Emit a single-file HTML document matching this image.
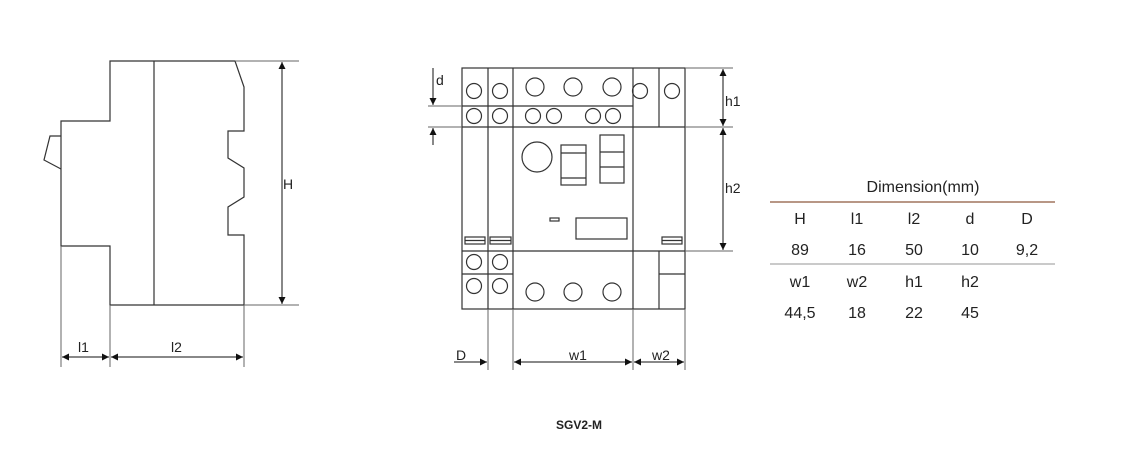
<!DOCTYPE html>
<html><head><meta charset="utf-8"><style>
html,body{margin:0;padding:0;background:#fff;width:1135px;height:460px;overflow:hidden}
svg{display:block}
text{font-family:"Liberation Sans",Arial,sans-serif;fill:#222}
</style></head><body>
<svg width="1135" height="460" viewBox="0 0 1135 460" xmlns="http://www.w3.org/2000/svg">
<defs>
<marker id="a" viewBox="0 0 10 10" refX="10" refY="5" markerWidth="9" markerHeight="7" orient="auto-start-reverse" markerUnits="userSpaceOnUse"><path d="M0,0 L10,5 L0,10 z" fill="#111"/></marker>
</defs>
<g fill="none" stroke="#333" stroke-width="1.2">
<!-- left side view -->
<path d="M110,61 L235,61 L244,87 L244,131 L228,131 L228,158 L244,168 L244,197 L228,207 L228,235 L244,235 L244,305 L110,305 L110,246 L61,246 L61,121 L110,121 Z"/>
<line x1="154" y1="61" x2="154" y2="305"/>
<path d="M61,136 L50,136 L44,160 L61,169"/>
</g>
<g fill="none" stroke="#666" stroke-width="1">
<line x1="235" y1="61" x2="299" y2="61"/>
<line x1="244" y1="305" x2="299" y2="305"/>
<line x1="61" y1="246" x2="61" y2="367"/>
<line x1="110" y1="305" x2="110" y2="367"/>
<line x1="244" y1="305" x2="244" y2="367"/>
</g>
<g stroke="#111" stroke-width="1">
<line x1="282" y1="62" x2="282" y2="304" marker-start="url(#a)" marker-end="url(#a)"/>
<line x1="62" y1="357" x2="109" y2="357" marker-start="url(#a)" marker-end="url(#a)"/>
<line x1="111" y1="357" x2="243" y2="357" marker-start="url(#a)" marker-end="url(#a)"/>
</g>
<text x="283" y="189" font-size="14">H</text>
<text x="78" y="352" font-size="14">l1</text>
<text x="171" y="352" font-size="14">l2</text>

<!-- front view -->
<g fill="none" stroke="#333" stroke-width="1.2">
<rect x="462" y="68" width="223" height="241"/>
<line x1="488" y1="68" x2="488" y2="309"/>
<line x1="513" y1="68" x2="513" y2="309"/>
<line x1="633" y1="68" x2="633" y2="309"/>
<line x1="659" y1="68" x2="659" y2="127"/>
<line x1="659" y1="251" x2="659" y2="309"/>
<line x1="462" y1="106" x2="633" y2="106"/>
<line x1="462" y1="127" x2="685" y2="127"/>
<line x1="462" y1="251" x2="685" y2="251"/>
<line x1="462" y1="274" x2="513" y2="274"/>
<line x1="659" y1="274" x2="685" y2="274"/>
<g>
<circle cx="474" cy="91" r="7.5"/><circle cx="500" cy="91" r="7.5"/>
<circle cx="640" cy="91" r="7.5"/><circle cx="672" cy="91" r="7.5"/>
<circle cx="535" cy="87" r="9"/><circle cx="573" cy="87" r="9"/><circle cx="612" cy="87" r="9"/>
<circle cx="474" cy="116" r="7.5"/><circle cx="500" cy="116" r="7.5"/>
<circle cx="533" cy="116" r="7.5"/><circle cx="554" cy="116" r="7.5"/>
<circle cx="593" cy="116" r="7.5"/><circle cx="613" cy="116" r="7.5"/>
<circle cx="537" cy="157" r="15"/>
<circle cx="474" cy="262" r="7.5"/><circle cx="500" cy="262" r="7.5"/>
<circle cx="474" cy="286" r="7.5"/><circle cx="500" cy="286" r="7.5"/>
<circle cx="535" cy="292" r="9"/><circle cx="573" cy="292" r="9"/><circle cx="612" cy="292" r="9"/>
</g>
<rect x="561" y="145" width="25" height="40"/>
<line x1="561" y1="153" x2="586" y2="153"/><line x1="561" y1="178" x2="586" y2="178"/>
<rect x="600" y="135" width="24" height="48"/>
<line x1="600" y1="152" x2="624" y2="152"/><line x1="600" y1="167" x2="624" y2="167"/>
<rect x="550" y="218" width="9" height="3"/>
<rect x="576" y="218" width="51" height="21"/>
<rect x="465" y="237" width="20" height="7"/><line x1="465" y1="240.5" x2="485" y2="240.5"/>
<rect x="490" y="237" width="21" height="7"/><line x1="490" y1="240.5" x2="511" y2="240.5"/>
<rect x="662" y="237" width="20" height="7"/><line x1="662" y1="240.5" x2="682" y2="240.5"/>
</g>
<g fill="none" stroke="#666" stroke-width="1">
<line x1="428" y1="106" x2="462" y2="106"/>
<line x1="428" y1="127" x2="462" y2="127"/>
<line x1="685" y1="68" x2="733" y2="68"/>
<line x1="685" y1="127" x2="733" y2="127"/>
<line x1="685" y1="251" x2="733" y2="251"/>
<line x1="488" y1="309" x2="488" y2="370"/>
<line x1="513" y1="309" x2="513" y2="370"/>
<line x1="633" y1="309" x2="633" y2="370"/>
<line x1="685" y1="309" x2="685" y2="370"/>
</g>
<g stroke="#111" stroke-width="1">
<line x1="433" y1="68" x2="433" y2="105" marker-end="url(#a)"/>
<line x1="433" y1="145" x2="433" y2="128" marker-end="url(#a)"/>
<line x1="723" y1="69" x2="723" y2="126" marker-start="url(#a)" marker-end="url(#a)"/>
<line x1="723" y1="128" x2="723" y2="250" marker-start="url(#a)" marker-end="url(#a)"/>
<line x1="454" y1="362" x2="487" y2="362" marker-end="url(#a)"/>
<line x1="514" y1="362" x2="632" y2="362" marker-start="url(#a)" marker-end="url(#a)"/>
<line x1="634" y1="362" x2="684" y2="362" marker-start="url(#a)" marker-end="url(#a)"/>
</g>
<text x="436" y="85" font-size="14">d</text>
<text x="725" y="106" font-size="14">h1</text>
<text x="725" y="193" font-size="14">h2</text>
<text x="456" y="360" font-size="14">D</text>
<text x="569" y="360" font-size="14">w1</text>
<text x="652" y="360" font-size="14">w2</text>

<!-- table -->
<text x="923" y="192" font-size="16" text-anchor="middle">Dimension(mm)</text>
<line x1="770" y1="202" x2="1055" y2="202" stroke="#a0755e" stroke-width="1.5"/>
<line x1="770" y1="264" x2="1055" y2="264" stroke="#aaa" stroke-width="1.2"/>
<g font-size="16" text-anchor="middle">
<text x="800" y="224">H</text><text x="857" y="224">l1</text><text x="914" y="224">l2</text><text x="970" y="224">d</text><text x="1027" y="224">D</text>
<text x="800" y="255">89</text><text x="857" y="255">16</text><text x="914" y="255">50</text><text x="970" y="255">10</text><text x="1027" y="255">9,2</text>
<text x="800" y="287">w1</text><text x="857" y="287">w2</text><text x="914" y="287">h1</text><text x="970" y="287">h2</text>
<text x="800" y="318">44,5</text><text x="857" y="318">18</text><text x="914" y="318">22</text><text x="970" y="318">45</text>
</g>
<text x="579" y="429" font-size="12" font-weight="bold" text-anchor="middle">SGV2-M</text>
</svg>
</body></html>
